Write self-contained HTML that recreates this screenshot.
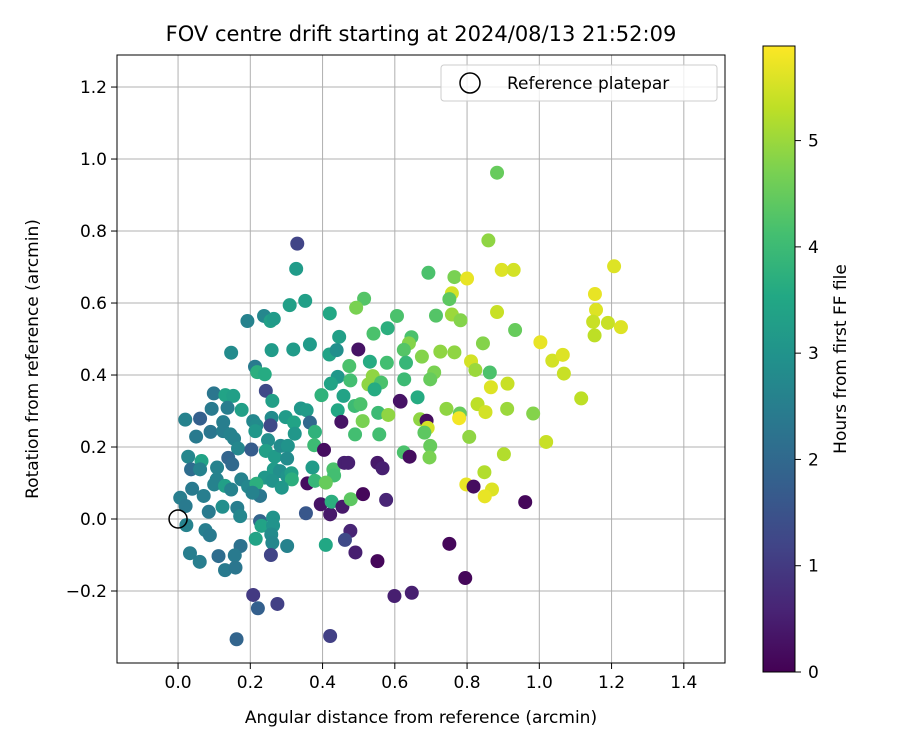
<!DOCTYPE html>
<html><head><meta charset="utf-8"><style>
html,body{margin:0;padding:0;background:#fff;}
svg{display:block;font-family:"DejaVu Sans","Liberation Sans",sans-serif;}
</style></head><body>
<svg id="fig" width="900" height="750" viewBox="0 0 900 750">
<text x="421" y="41" font-size="21" text-anchor="middle">FOV centre drift starting at 2024/08/13 21:52:09</text>
<g id="grid"></g>
<g id="pts"></g>
<circle id="refpt" r="9" fill="none" stroke="#000" stroke-width="1.5"></circle>
<rect x="117" y="55" width="608" height="608" fill="none" stroke="#000" stroke-width="1"></rect>
<g id="ticks"></g>
<text x="421" y="723" font-size="17" text-anchor="middle">Angular distance from reference (arcmin)</text>
<text transform="translate(38,359) rotate(-90)" font-size="17" text-anchor="middle">Rotation from reference (arcmin)</text>
<g>
<rect x="441" y="65" width="276" height="36" rx="3" fill="#fff" fill-opacity="0.8" stroke="#ccc"></rect>
<circle cx="470" cy="83" r="10" fill="none" stroke="#000" stroke-width="1.5"></circle>
<text x="507" y="89" font-size="17">Reference platepar</text>
</g>
<defs><linearGradient id="cbg" x1="0" y1="1" x2="0" y2="0">
<stop offset="0" stop-color="#440154"/><stop offset="0.1" stop-color="#482475"/><stop offset="0.2" stop-color="#414487"/><stop offset="0.3" stop-color="#355f8d"/><stop offset="0.4" stop-color="#2a788e"/><stop offset="0.5" stop-color="#21918c"/><stop offset="0.6" stop-color="#22a884"/><stop offset="0.7" stop-color="#44bf70"/><stop offset="0.8" stop-color="#7ad151"/><stop offset="0.9" stop-color="#bddf26"/><stop offset="1" stop-color="#fde725"/>
</linearGradient></defs>
<rect x="763" y="46" width="32" height="626" fill="url(#cbg)" stroke="#000" stroke-width="1"></rect>
<g id="cbticks"></g>
<text transform="translate(846,359) rotate(-90)" font-size="17" text-anchor="middle">Hours from first FF file</text>
</svg>
<script>
const xTicks=[0.0,0.2,0.4,0.6,0.8,1.0,1.2,1.4];
const yTicks=[-0.2,0.0,0.2,0.4,0.6,0.8,1.0,1.2];
const cbTicks=[0,1,2,3,4,5];
const xs=[0.883,0.859,0.693,0.765,0.80,0.896,0.929,1.207,0.758,0.751,1.154,1.157,1.149,1.19,1.226,1.153,0.714,0.758,0.782,0.883,0.933,1.003,0.844,1.036,1.065,1.068,1.116,0.646,0.639,0.625,0.675,0.726,0.765,0.631,0.811,0.823,0.863,0.709,0.698,0.626,0.912,0.866,0.663,0.616,0.743,0.78,0.829,0.851,0.778,0.911,0.983,0.67,0.688,0.691,0.682,0.806,1.019,0.698,0.625,0.641,0.696,0.902,0.848,0.798,0.818,0.869,0.849,0.961,0.751,0.795,0.647,
0.33,0.327,0.309,0.352,0.42,0.515,0.493,0.606,0.192,0.238,0.256,0.265,0.446,0.541,0.58,0.147,0.259,0.319,0.365,0.419,0.439,0.499,0.213,0.219,0.24,0.474,0.531,0.578,0.442,0.423,0.477,0.539,0.527,0.562,0.544,0.099,0.131,0.153,0.243,0.261,0.176,0.093,0.02,0.061,0.125,0.137,0.397,0.458,0.489,0.442,0.505,0.554,0.582,0.614,0.511,0.452,0.557,0.49,0.34,0.356,0.298,0.321,0.323,0.365,0.379,0.208,0.217,0.259,0.256,0.214,0.05,0.09,0.125,0.145,0.155,0.166,0.249,0.243,0.268,0.284,0.304,0.302,0.203,0.377,0.404,0.028,0.065,0.036,0.061,0.108,0.139,0.15,0.265,0.282,0.302,0.314,0.315,0.372,0.43,0.432,0.46,0.471,0.552,0.566,0.24,0.261,0.287,0.175,0.194,0.107,0.1,0.13,0.147,0.217,0.227,0.206,0.071,0.039,0.006,0.021,0.085,0.123,0.164,0.172,0.358,0.379,0.409,0.395,0.421,0.425,0.455,0.478,0.512,0.576,0.354,0.227,0.231,0.263,0.263,0.258,0.261,0.023,0.076,0.088,0.215,0.302,0.173,0.409,0.477,0.462,0.491,0.552,0.033,0.06,0.112,0.157,0.13,0.159,0.257,0.208,0.221,0.275,0.599,0.162,0.421];
const ys=[0.962,0.774,0.684,0.672,0.668,0.692,0.692,0.702,0.627,0.611,0.625,0.581,0.548,0.545,0.533,0.51,0.565,0.568,0.552,0.575,0.525,0.491,0.488,0.44,0.456,0.404,0.335,0.505,0.488,0.47,0.451,0.465,0.463,0.434,0.438,0.414,0.407,0.407,0.388,0.388,0.376,0.366,0.338,0.326,0.306,0.293,0.319,0.297,0.28,0.306,0.293,0.277,0.273,0.253,0.24,0.228,0.214,0.203,0.185,0.173,0.171,0.18,0.13,0.096,0.09,0.082,0.063,0.047,-0.069,-0.164,-0.205,
0.765,0.695,0.594,0.606,0.571,0.612,0.587,0.564,0.55,0.564,0.55,0.556,0.506,0.515,0.53,0.462,0.469,0.471,0.485,0.457,0.469,0.471,0.423,0.408,0.402,0.425,0.437,0.434,0.395,0.376,0.385,0.397,0.374,0.379,0.36,0.349,0.344,0.342,0.356,0.328,0.303,0.306,0.276,0.279,0.269,0.309,0.344,0.342,0.314,0.302,0.319,0.295,0.289,0.328,0.272,0.27,0.235,0.235,0.307,0.302,0.283,0.268,0.237,0.268,0.242,0.272,0.26,0.281,0.26,0.244,0.229,0.242,0.244,0.235,0.223,0.196,0.219,0.189,0.173,0.203,0.203,0.168,0.193,0.205,0.192,0.173,0.161,0.138,0.138,0.143,0.17,0.152,0.138,0.133,0.119,0.127,0.11,0.143,0.138,0.121,0.156,0.156,0.156,0.141,0.115,0.106,0.087,0.11,0.09,0.11,0.096,0.092,0.082,0.098,0.064,0.073,0.064,0.084,0.059,0.036,0.02,0.034,0.031,0.008,0.099,0.106,0.101,0.041,0.013,0.048,0.034,0.055,0.069,0.053,0.016,-0.006,-0.019,0.004,-0.018,-0.043,-0.066,-0.017,-0.031,-0.045,-0.055,-0.075,-0.075,-0.072,-0.033,-0.058,-0.093,-0.117,-0.095,-0.119,-0.103,-0.101,-0.142,-0.135,-0.1,-0.211,-0.248,-0.236,-0.214,-0.334,-0.325];
const hours=[4.5,4.9,4.2,4.7,5.7,5.6,5.5,5.6,5.5,4.4,5.7,5.6,5.4,5.4,5.6,5.3,4.3,5.0,4.8,5.4,4.5,5.7,4.8,5.5,5.6,5.4,5.3,4.2,4.8,4.3,4.8,4.9,4.9,3.9,5.5,5.0,4.2,4.7,4.5,4.0,5.4,5.6,3.6,0.3,4.9,4.5,5.3,5.5,5.8,5.0,4.8,4.9,0.2,5.5,4.4,4.9,5.4,4.5,4.2,0.2,4.7,5.2,5.2,5.7,0.2,5.6,5.7,0.1,0.1,0.1,0.5,
1.2,3.2,3.3,3.3,3.5,4.3,4.7,4.2,2.6,2.7,3.3,3.2,3.3,4.2,3.7,2.8,3.2,3.2,3.2,3.4,2.9,0.3,2.4,3.7,3.6,4.2,3.6,4.1,3.1,3.4,4.1,4.9,4.9,4.2,3.6,2.3,3.4,3.3,1.3,3.3,3.3,2.4,2.6,1.8,2.5,2.5,3.8,3.4,4.0,3.5,4.2,4.0,4.9,0.3,4.7,0.3,4.1,4.1,3.1,3.2,3.2,3.4,3.1,2.0,3.8,2.7,2.8,2.8,1.3,3.1,2.4,2.3,2.5,2.6,2.6,2.7,2.9,3.3,3.2,2.8,3.0,2.8,1.7,4.0,0.2,2.7,3.4,2.1,2.6,2.6,1.9,2.0,3.2,2.9,3.0,3.3,3.7,3.2,4.2,4.1,0.5,0.5,0.4,0.5,3.1,3.0,3.1,2.6,2.7,2.6,2.6,3.3,2.6,3.7,2.3,2.6,2.5,2.4,2.5,2.4,2.4,2.9,2.5,2.7,0.2,3.9,4.5,0.3,0.4,3.7,0.4,4.4,0.1,0.6,1.6,1.9,3.4,3.0,3.0,2.8,2.7,2.6,2.5,2.4,3.4,2.6,2.2,3.5,0.6,1.3,0.5,0.1,2.5,2.5,2.1,2.4,2.4,2.3,1.2,1.0,1.8,1.1,0.5,1.9,1.1];

const NS='http://www.w3.org/2000/svg';
const X0=117,X1=725,Y0=55,Y1=663;
const xMin=-0.169,xMax=1.514,yMin=-0.4,yMax=1.289,hMax=5.89;
function sx(v){return X0+(v-xMin)/(xMax-xMin)*(X1-X0);}
function sy(v){return Y1-(v-yMin)/(yMax-yMin)*(Y1-Y0);}
function sc(v){return 672-v/hMax*626;}
const vir=[[68,1,84],[72,36,117],[65,68,135],[53,95,141],[42,120,142],[33,145,140],[34,168,132],[68,191,112],[122,209,81],[189,223,38],[253,231,37]];
function color(h){let t=Math.max(0,Math.min(1,h/hMax))*10;let i=Math.min(9,Math.floor(t));let f=t-i;const a=vir[i],b=vir[i+1];return 'rgb('+a.map((c,k)=>Math.round(c+(b[k]-c)*f)).join(',')+')';}
function mk(tag,attrs,parent){const e=document.createElementNS(NS,tag);for(const k in attrs)e.setAttribute(k,attrs[k]);parent.appendChild(e);return e;}
const grid=document.getElementById('grid'),ticks=document.getElementById('ticks');
xTicks.forEach(v=>{
  const l=mk('line',{x1:sx(v),x2:sx(v),y1:Y0,y2:Y1,stroke:'#b0b0b0','stroke-width':1},grid);
  
  
  const t=mk('line',{x1:sx(v),x2:sx(v),y1:Y1,y2:Y1+6,stroke:'#000'},ticks);
  
  
  const tx=mk('text',{x:sx(v),y:Y1+25,'font-size':17,'text-anchor':'middle'},ticks);
  tx.textContent=v.toFixed(1);
  
  
});
yTicks.forEach(v=>{
  const l=mk('line',{x1:X0,x2:X1,y1:sy(v),y2:sy(v),stroke:'#b0b0b0','stroke-width':1},grid);
  
  
  const t=mk('line',{x1:X0-6,x2:X0,y1:sy(v),y2:sy(v),stroke:'#000'},ticks);
  
  
  const tx=mk('text',{x:X0-10,y:sy(v)+6,'font-size':17,'text-anchor':'end'},ticks);
  tx.textContent=(v<0?'\u2212':'')+Math.abs(v).toFixed(1);
  
  
});
const pts=document.getElementById('pts');
xs.forEach((v,i)=>{
  const c=mk('circle',{cx:sx(v),cy:sy(ys[i]),r:7,fill:color(hours[i])},pts);
  
  
});
const rp=document.getElementById('refpt');rp.setAttribute('cx',sx(0));rp.setAttribute('cy',sy(0));
const cbt=document.getElementById('cbticks');
cbTicks.forEach(v=>{
  const t=mk('line',{x1:795,x2:801,y1:sc(v),y2:sc(v),stroke:'#000'},cbt);
  
  
  const tx=mk('text',{x:808,y:sc(v)+6,'font-size':17},cbt);
  tx.textContent=String(v);
  
  
});
</script>
</body></html>
